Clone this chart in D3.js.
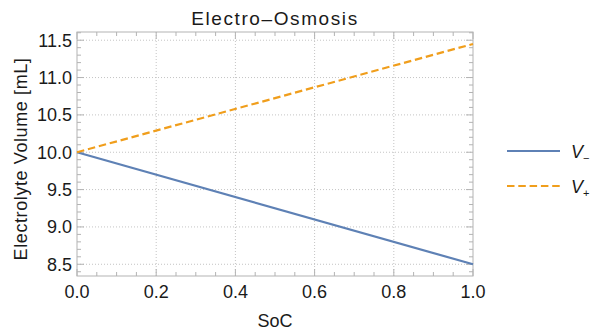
<!DOCTYPE html>
<html>
<head>
<meta charset="utf-8">
<script src="https://cdn.jsdelivr.net/npm/d3@7"></script>
<style>
  body { margin: 0; background: #fff; }
  text { font-family: "Liberation Sans", Arial, sans-serif; fill: #1a1a1a; }
</style>
</head>
<body>
<div id="chart"></div>
<script>
// data: two straight lines over state of charge
const soc = [0, 1];
const vMinus = [10.0, 8.5];
const vPlus = [10.0, 11.45];
const seriesNames = ["V", "V"];
const seriesSubs = ["\u2212", "+"];
const seriesColors = ["#5e81b5", "#f09e1c"];
const xTicks = [0, 0.2, 0.4, 0.6, 0.8, 1.0];
const yTicks = [8.5, 9.0, 9.5, 10.0, 10.5, 11.0, 11.5];

const width = 590, height = 333;
const margin = { top: 32, right: 117, bottom: 57, left: 77 };
const innerW = width - margin.left - margin.right;
const innerH = height - margin.top - margin.bottom;
const dash = "7.5,3.8";

const svg = d3.select("#chart").append("svg")
  .attr("width", width).attr("height", height);

const x = d3.scaleLinear().domain([0, 1]).range([0, innerW]);
const y = d3.scaleLinear().domain([8.343, 11.61]).range([innerH, 0]);

const g = svg.append("g")
  .attr("transform", `translate(${margin.left},${margin.top})`);

// grid lines
g.append("g").selectAll("line").data(xTicks.slice(1, -1)).join("line")
  .attr("x1", d => x(d)).attr("x2", d => x(d))
  .attr("y1", 0).attr("y2", innerH)
  .attr("stroke", "#c4c4c4").attr("stroke-dasharray", "1,2");
g.append("g").selectAll("line").data(yTicks).join("line")
  .attr("x1", 0).attr("x2", innerW)
  .attr("y1", d => y(d)).attr("y2", d => y(d))
  .attr("stroke", "#c4c4c4").attr("stroke-dasharray", "1,2");

// inward ticks on all four sides
const xMinor = d3.range(0, 1.0001, 0.05);
const yMinor = d3.range(8.4, 11.61, 0.1);
const tickCol = "#b3b3b3";
function ticks(data, scale, isMajor, horizontal) {
  data.forEach(v => {
    const len = isMajor(v) ? 7 : 4;
    if (horizontal) {
      g.append("line").attr("x1", scale(v)).attr("x2", scale(v))
        .attr("y1", innerH).attr("y2", innerH - len).attr("stroke", tickCol);
      g.append("line").attr("x1", scale(v)).attr("x2", scale(v))
        .attr("y1", 0).attr("y2", len).attr("stroke", tickCol);
    } else {
      g.append("line").attr("y1", scale(v)).attr("y2", scale(v))
        .attr("x1", 0).attr("x2", len).attr("stroke", tickCol);
      g.append("line").attr("y1", scale(v)).attr("y2", scale(v))
        .attr("x1", innerW).attr("x2", innerW - len).attr("stroke", tickCol);
    }
  });
}
ticks(xMinor, x, v => Math.abs(v * 5 - Math.round(v * 5)) < 1e-6, true);
ticks(yMinor, y, v => Math.abs(v * 2 - Math.round(v * 2)) < 1e-6, false);

// frame
g.append("rect").attr("width", innerW).attr("height", innerH)
  .attr("fill", "none").attr("stroke", tickCol).attr("stroke-width", 1);

// tick labels
g.append("g").selectAll("text").data(xTicks).join("text")
  .attr("x", d => x(d)).attr("y", innerH + 22)
  .attr("text-anchor", "middle").style("font-size", "18px")
  .text(d => d3.format(".1f")(d));
g.append("g").selectAll("text").data(yTicks).join("text")
  .attr("x", -5).attr("y", d => y(d)).attr("dy", "0.35em")
  .attr("text-anchor", "end").style("font-size", "18px")
  .text(d => d3.format(".1f")(d));

// lines
const line = d3.line().x(d => x(d[0])).y(d => y(d[1]));
[vMinus, vPlus].forEach((vals, i) => {
  g.append("path")
    .datum(soc.map((s, j) => [s, vals[j]]))
    .attr("d", line)
    .attr("fill", "none")
    .attr("stroke", seriesColors[i])
    .attr("stroke-width", 2.2)
    .attr("stroke-dasharray", i === 1 ? dash : null);
});

// titles
svg.append("text").attr("x", margin.left + innerW / 2).attr("y", 25)
  .attr("text-anchor", "middle").style("font-size", "19px")
  .style("letter-spacing", "1.6px")
  .text("Electro\u2013Osmosis");
svg.append("text").attr("x", margin.left + innerW / 2).attr("y", 327)
  .attr("text-anchor", "middle").style("font-size", "18px")
  .text("SoC");
svg.append("text")
  .attr("transform", `translate(27,159) rotate(-90)`)
  .attr("text-anchor", "middle").style("font-size", "18px")
  .style("letter-spacing", "0.6px")
  .text("Electrolyte Volume [mL]");

// legend
const legend = svg.append("g").attr("transform", "translate(507,151)");
seriesNames.forEach((name, i) => {
  const row = legend.append("g").attr("transform", `translate(0,${i * 35})`);
  row.append("line").attr("x1", 0).attr("x2", 53)
    .attr("stroke", seriesColors[i]).attr("stroke-width", 2.2)
    .attr("stroke-dasharray", i === 1 ? dash : null);
  const t = row.append("text").attr("x", 64).attr("y", 7)
    .style("font-size", "18px");
  t.append("tspan").style("font-style", "italic").text(name);
  t.append("tspan").attr("dy", "4").style("font-size", "11px").text(seriesSubs[i]);
});
</script>
</body>
</html>
